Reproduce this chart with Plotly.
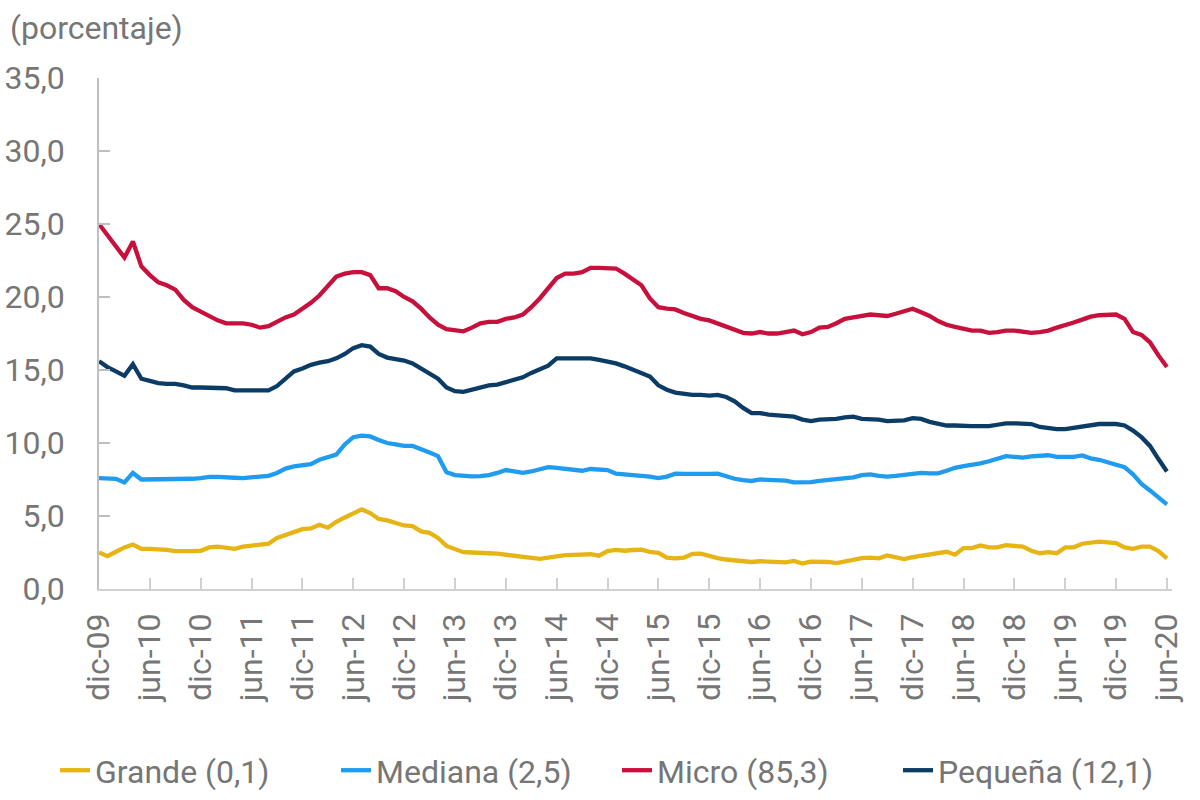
import plotly.graph_objects as go

# meses dic-09 .. jun-20
mes_abr = ['ene', 'feb', 'mar', 'abr', 'may', 'jun', 'jul', 'ago', 'sep', 'oct', 'nov', 'dic']
meses = ['dic-09'] + [f"{m}-{a:02d}" for a in range(10, 21) for m in mes_abr]
meses = meses[:127]
ticks = meses[::6]

grande = [2.5, 2.25, 2.55, 2.85, 3.05, 2.75,
          2.75, 2.73, 2.68, 2.6, 2.57, 2.6,
          2.62, 2.85, 2.9, 2.85, 2.75, 2.9,
          2.95, 3.0, 3.1, 3.5, 3.7, 3.95,
          4.1, 4.15, 4.4, 4.2, 4.6, 4.9,
          5.15, 5.45, 5.2, 4.8, 4.7, 4.5,
          4.35, 4.3, 3.95, 3.85, 3.5, 2.95,
          2.7, 2.52, 2.5, 2.5, 2.45, 2.42,
          2.35, 2.27, 2.2, 2.12, 2.06, 2.15,
          2.25, 2.32, 2.34, 2.36, 2.38, 2.28,
          2.6, 2.68, 2.62, 2.67, 2.7, 2.55,
          2.48, 2.15, 2.1, 2.15, 2.4, 2.42,
          2.25, 2.12, 2.02, 1.98, 1.95, 1.85,
          1.9, 1.87, 1.86, 1.82, 1.92, 1.75,
          1.88, 1.9, 1.85, 1.78, 1.9, 2.0,
          2.12, 2.15, 2.1, 2.3, 2.2, 2.05,
          2.18, 2.27, 2.35, 2.45, 2.55, 2.35,
          2.8, 2.8, 2.98, 2.85, 2.85, 3.0,
          2.95, 2.9, 2.62, 2.45, 2.52, 2.45,
          2.85, 2.86, 3.1, 3.2, 3.25, 3.2,
          3.15, 2.85, 2.75, 2.9, 2.9, 2.6,
          2.1]

mediana = [7.6, 7.55, 7.55, 7.3, 7.95, 7.5,
           7.5, 7.5, 7.5, 7.48, 7.48, 7.55,
           7.6, 7.68, 7.68, 7.68, 7.62, 7.6,
           7.64, 7.66, 7.75, 7.95, 8.25, 8.4,
           8.5, 8.55, 8.85, 9.0, 9.2, 9.9,
           10.4, 10.5, 10.45, 10.2, 10.0, 9.9,
           9.8, 9.8, 9.6, 9.35, 9.1, 8.0,
           7.8, 7.75, 7.72, 7.73, 7.8, 7.95,
           8.15, 8.05, 7.95, 8.05, 8.2, 8.35,
           8.3, 8.25, 8.15, 8.1, 8.22, 8.2,
           8.15, 7.9, 7.86, 7.86, 7.75, 7.7,
           7.6, 7.7, 7.9, 7.88, 7.86, 7.86,
           7.88, 7.9, 7.7, 7.55, 7.45, 7.4,
           7.5, 7.47, 7.45, 7.42, 7.3, 7.3,
           7.32, 7.4, 7.45, 7.5, 7.6, 7.65,
           7.8, 7.85, 7.75, 7.7, 7.75, 7.8,
           7.9, 7.95, 7.92, 7.92, 8.1, 8.3,
           8.42, 8.48, 8.6, 8.75, 8.95, 9.1,
           9.05, 9.0, 9.08, 9.12, 9.16, 9.05,
           9.05, 9.05, 9.15, 8.95, 8.85, 8.7,
           8.55, 8.35, 7.85, 7.2, 6.75, 6.3,
           5.8]

micro = [25.0, 24.2, 23.5, 22.7, 23.8, 22.1,
         21.5, 21.0, 20.8, 20.5, 19.8, 19.3,
         19.0, 18.7, 18.4, 18.2, 18.2, 18.2,
         18.1, 17.9, 18.0, 18.3, 18.6, 18.8,
         19.2, 19.6, 20.1, 20.8, 21.4, 21.6,
         21.7, 21.7, 21.5, 20.6, 20.6, 20.4,
         20.0, 19.7, 19.2, 18.6, 18.1, 17.8,
         17.7, 17.65, 17.9, 18.2, 18.3, 18.3,
         18.5, 18.6, 18.8, 19.3, 19.9, 20.6,
         21.3, 21.6, 21.6, 21.7, 22.0, 22.0,
         21.95, 21.95, 21.6, 21.2, 20.8, 19.9,
         19.3, 19.2, 19.15, 18.9, 18.7, 18.5,
         18.4, 18.2, 17.95, 17.75, 17.55, 17.5,
         17.6, 17.5, 17.5, 17.6, 17.7, 17.45,
         17.6, 17.9, 17.95, 18.2, 18.5, 18.6,
         18.7, 18.8, 18.75, 18.7, 18.85, 19.0,
         19.2, 18.95, 18.7, 18.35, 18.1, 17.95,
         17.8, 17.7, 17.7, 17.55, 17.6, 17.7,
         17.7, 17.65, 17.55, 17.6, 17.7, 17.9,
         18.05, 18.25, 18.45, 18.65, 18.75, 18.75,
         18.8, 18.5, 17.6, 17.4, 16.9, 16.0,
         15.2]

pequena = [15.6, 15.2, 14.9, 14.6, 15.4, 14.4,
           14.25, 14.1, 14.05, 14.05, 13.95, 13.8,
           13.8, 13.8, 13.75, 13.75, 13.6, 13.6,
           13.65, 13.6, 13.6, 13.9, 14.4, 14.9,
           15.1, 15.35, 15.5, 15.6, 15.8, 16.1,
           16.5, 16.7, 16.6, 16.1, 15.85, 15.75,
           15.65, 15.45, 15.1, 14.7, 14.4, 13.8,
           13.55, 13.5, 13.65, 13.85, 13.95, 14.0,
           14.15, 14.35, 14.5, 14.8, 15.05, 15.3,
           15.8, 15.8, 15.78, 15.75, 15.8, 15.7,
           15.6, 15.45, 15.25, 15.0, 14.8, 14.55,
           13.95, 13.65, 13.45, 13.35, 13.3, 13.3,
           13.25, 13.3, 13.15, 12.85, 12.4, 12.05,
           12.05, 11.95, 11.9, 11.85, 11.8, 11.6,
           11.5, 11.6, 11.6, 11.65, 11.75, 11.8,
           11.65, 11.65, 11.6, 11.5, 11.5, 11.55,
           11.7, 11.65, 11.45, 11.35, 11.2, 11.2,
           11.15, 11.15, 11.15, 11.15, 11.25, 11.35,
           11.35, 11.35, 11.3, 11.1, 11.0, 10.95,
           10.95, 11.05, 11.15, 11.25, 11.3, 11.3,
           11.3, 11.2, 10.85, 10.4, 9.8, 8.9,
           8.05]

series = [
    ('Grande (0,1)', grande, '#E6B414'),
    ('Mediana (2,5)', mediana, '#1F9BF0'),
    ('Micro (85,3)', micro, '#C8103C'),
    ('Pequeña (12,1)', pequena, '#0B3C66'),
]

gris = '#767676'
font = 'Roboto'
fsize = 32

fig = go.Figure()
for nombre, valores, color in series:
    fig.add_trace(go.Scatter(x=meses, y=valores, name=nombre, mode='lines',
                             line=dict(color=color, width=4.3)))

fig.update_layout(
    width=1200, height=800,
    margin=dict(l=99, r=28, t=78, b=211, autoexpand=False),
    paper_bgcolor='white', plot_bgcolor='white',
    font=dict(family=font, size=fsize, color=gris),
    separators=',.',
    showlegend=True,
    legend=dict(orientation='h', x=-0.041, xanchor='left', y=-0.355, yanchor='middle',
                font=dict(size=fsize, color=gris), traceorder='normal',
                entrywidth=236, entrywidthmode='pixels'),
)

fig.update_xaxes(type='category', categoryorder='array', categoryarray=meses,
                 range=[0, 126.6], tickvals=ticks, ticktext=ticks, tickangle=-90,
                 showgrid=False, zeroline=False, showline=True, linecolor='#D0D0D0', linewidth=1.5,
                 ticks='inside', ticklen=11, tickcolor='#D0D0D0', tickwidth=1.5, automargin=False,
                 ticklabelstandoff=10, tickfont=dict(size=fsize, color=gris))

fig.update_yaxes(range=[0, 35], dtick=5, tickformat='.1f',
                 showgrid=False, zeroline=False, showline=True, linecolor='#BFBFBF', linewidth=1.5,
                 ticks='inside', ticklen=11, tickcolor='#BFBFBF', tickwidth=1.5, automargin=False,
                 ticklabelstandoff=26, tickfont=dict(size=fsize, color=gris))

fig.add_annotation(text='(porcentaje)', xref='paper', yref='paper',
                   x=-0.085, y=1.098, xanchor='left', yanchor='middle', showarrow=False,
                   font=dict(size=fsize, color=gris))

# no default 8px body margin, so the figure sits at the page corner
fig.write_html("out.html", config={'displayModeBar': False},
               post_script="document.body.style.margin='0';")
